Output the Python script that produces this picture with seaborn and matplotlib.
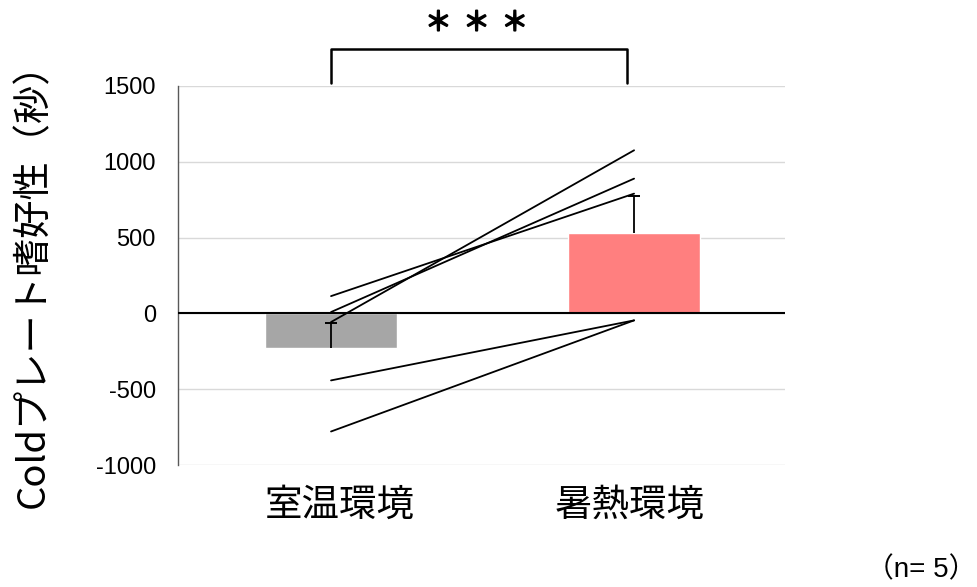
import numpy as np
import pandas as pd
import matplotlib
matplotlib.use("Agg")
import matplotlib.pyplot as plt
import matplotlib.transforms as mtransforms
import matplotlib.patheffects as pe
import seaborn as sns

# ---- data ----
categories = ["室温環境", "暑熱環境"]
room_values = [114, 9, -57, -442, -779]      # 室温環境, per subject
heat_values = [790, 889, 1076, -46, -46]     # 暑熱環境, per subject
subjects = ["s1", "s2", "s3", "s4", "s5"]
bar_colors = ["#a6a6a6", "#ff7f7f"]
yticks = [-1000, -500, 0, 500, 1000, 1500]
ylabel = "Coldプレート嗜好性（秒）"
sig_text = "＊  ＊  ＊"
n_text = "（n= 5）"

sns.set_theme(style="white")
plt.rcParams["font.family"] = ["Noto Sans CJK JP", "DejaVu Sans"]

df = pd.DataFrame({
    "subject": subjects * 2,
    "cond": [categories[0]] * len(room_values) + [categories[1]] * len(heat_values),
    "pos": [0] * len(room_values) + [1] * len(heat_values),
    "value": room_values + heat_values,
})

fig = plt.figure(figsize=(9.77, 5.87), dpi=100)
ax = fig.add_axes([178 / 977, 1 - 465 / 587, (785 - 178) / 977, (465 - 86) / 587])

sns.barplot(data=df, x="cond", y="value", hue="cond", palette=bar_colors,
            order=categories, errorbar=None, width=0.436, legend=False,
            saturation=1, ax=ax, zorder=2)

# one-sided (upper) SEM error bars, cap only at the top
means = df.groupby("pos")["value"].mean().values
sems = df.groupby("pos")["value"].sem().values
xpos = np.array([0, 1])
ax.vlines(xpos, means, means + sems, color="black", linewidth=1.3, zorder=3)
ax.plot(xpos, means + sems, linestyle="none", marker="_", markersize=8,
        markeredgewidth=1.4, color="black", zorder=3)

# individual subject lines
sns.lineplot(data=df, x="pos", y="value", units="subject", estimator=None,
             color="black", linewidth=1.3, ax=ax, zorder=4, legend=False)

ax.axhline(0, color="black", linewidth=1.5, zorder=5)

ax.set_xlim(-0.505, 1.498)
ax.set_ylim(-1000, 1500)
ax.set_yticks(yticks)
ax.set_yticklabels([str(t) for t in yticks], fontfamily="Liberation Sans",
                   fontsize=17, color="black")
ax.set_xticks([0, 1])
ax.set_xticklabels(categories, fontsize=27, color="black")
ax.tick_params(axis="x", length=0, pad=15)
ax.tick_params(axis="y", direction="in", length=7, width=1, color="#7f7f7f", pad=16)
# small horizontal offsets of the category labels as in the reference
for lab, dx in zip(ax.get_xticklabels(), [9, -4]):
    lab.set_transform(lab.get_transform() +
                      mtransforms.ScaledTranslation(dx / 100, 0, fig.dpi_scale_trans))
ax.yaxis.grid(True, color="#d9d9d9", linewidth=1)
ax.set_axisbelow(True)
for s in ["top", "right", "bottom"]:
    ax.spines[s].set_visible(False)
ax.spines["left"].set_color("#595959")
ax.spines["left"].set_linewidth(1)
ax.set_xlabel("")
ax.set_ylabel("")

fig.text(34 / 977, 1 - 276 / 587, ylabel, rotation=90, ha="center", va="center",
         fontsize=27.5, color="black")

# significance bracket
ax.plot([0, 0, 0.975, 0.975], [1518, 1743, 1743, 1518], color="black",
        linewidth=1.8, clip_on=False, zorder=6)
ax.text(0.48, 1915, sig_text, ha="center", va="center", fontsize=19,
        color="black", clip_on=False,
        path_effects=[pe.withStroke(linewidth=1.3, foreground="black")])

fig.text(976 / 977, 1 - 570 / 587, n_text, ha="right", va="center", fontsize=20,
         family=["Liberation Sans", "Noto Sans CJK JP"], color="black")

fig.savefig("out.png", dpi=100)
